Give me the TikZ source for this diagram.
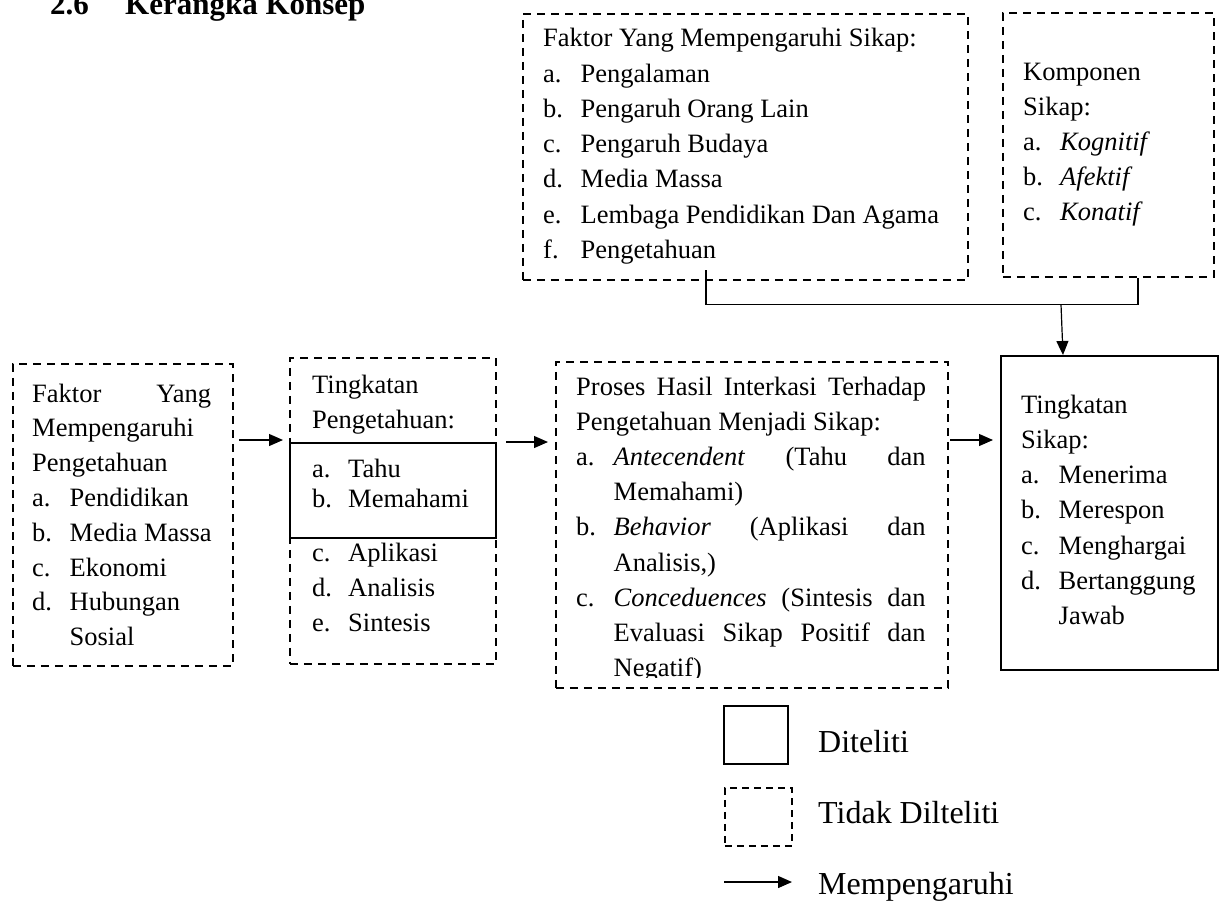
\documentclass[tikz,border=0pt]{standalone}
\usepackage{fontspec}
\setmainfont{Liberation Serif}
\usetikzlibrary{arrows.meta}
\newcommand\mytxt{\fontsize{26.5}{35.2}\selectfont}
\newcommand\itm[2]{\makebox[37.5pt][l]{#1}#2}
\newcommand\ind{\hspace*{37.5pt}}
\begin{document}
\begin{tikzpicture}[x=1pt,y=-1pt,
  dbox/.style={draw, line width=1.8pt, dash pattern=on 8pt off 6pt, rectangle, inner sep=0, anchor=north west},
  sbox/.style={draw, line width=2pt, rectangle, inner sep=0, anchor=north west},
  txt/.style={anchor=base west, inner sep=0, font=\mytxt},
  legtxt/.style={anchor=base west, inner sep=0, font=\fontsize{32}{32}\selectfont},
  arr/.style={-{Triangle[length=14pt,width=12pt]}, line width=1.2pt},
  conn/.style={line width=1.2pt}]
\useasboundingbox (0,0) rectangle (1222,906);

% title
\node[anchor=base west, inner sep=0, font=\bfseries\fontsize{31}{31}\selectfont] (tnum) at (50,14) {2.6};
\node[anchor=base west, inner sep=0, font=\bfseries\fontsize{31}{31}\selectfont] (ttl) at (125,14) {Kerangka Konsep};

% top boxes
\node[dbox, minimum width=445pt, minimum height=266pt] (fs) at (522,13) {};
\node[txt] (fst) at (543,46.7) {\fontsize{26.5}{35.3}\selectfont\begin{tabular}[t]{@{}l@{}}
Faktor Yang Mempengaruhi Sikap:\\
\itm{a.}{Pengalaman}\\
\itm{b.}{Pengaruh Orang Lain}\\
\itm{c.}{Pengaruh Budaya}\\
\itm{d.}{Media Massa}\\
\itm{e.}{Lembaga Pendidikan Dan Agama}\\
\itm{f.}{Pengetahuan}
\end{tabular}};

\node[dbox, minimum width=211pt, minimum height=264pt] (ks) at (1002,12) {};
\node[txt] (kst) at (1023,80) {\fontsize{26.5}{35}\selectfont\begin{tabular}[t]{@{}l@{}}
Komponen\\
Sikap:\\
\makebox[37pt][l]{a.}\textit{Kognitif}\\
\makebox[37pt][l]{b.}\textit{Afektif}\\
\makebox[37pt][l]{c.}\textit{Konatif}
\end{tabular}};

% left box
\node[dbox, minimum width=220pt, minimum height=302pt] (lb) at (12,363) {};
\node[txt] (lbt) at (32,402) {\fontsize{26.5}{34.8}\selectfont\begin{tabular}[t]{@{}l@{}}
\makebox[179pt][s]{Faktor Yang}\\
Mempengaruhi\\
Pengetahuan\\
\itm{a.}{Pendidikan}\\
\itm{b.}{Media Massa}\\
\itm{c.}{Ekonomi}\\
\itm{d.}{Hubungan}\\
\ind Sosial
\end{tabular}};

% tingkatan pengetahuan
\node[dbox, minimum width=206pt, minimum height=306pt] (tp) at (289,357) {};
\node[sbox, minimum width=206pt, minimum height=95pt, fill=white] (tpin) at (289,442) {};
\node[txt] (tpt1) at (312,393) {\fontsize{26.5}{35}\selectfont\begin{tabular}[t]{@{}l@{}}
Tingkatan\\
Pengetahuan:
\end{tabular}};
\node[txt] (tpt2) at (312,477) {\fontsize{26.5}{30}\selectfont\begin{tabular}[t]{@{}l@{}}
\makebox[36pt][l]{a.}Tahu\\
\makebox[36pt][l]{b.}Memahami
\end{tabular}};
\node[txt] (tpt3) at (312,561) {\fontsize{26.5}{35}\selectfont\begin{tabular}[t]{@{}l@{}}
\makebox[36pt][l]{c.}Aplikasi\\
\makebox[36pt][l]{d.}Analisis\\
\makebox[36pt][l]{e.}Sintesis
\end{tabular}};

% proses
\begin{scope}
\clip (555,361) rectangle (947,677);
\node[txt] (prt) at (576,395) {\fontsize{26.5}{35.2}\selectfont\begin{tabular}[t]{@{}l@{}}
\makebox[350pt][s]{Proses Hasil Interkasi Terhadap}\\
Pengetahuan Menjadi Sikap:\\
\itm{a.}{\makebox[312pt][s]{\textit{Antecendent} (Tahu dan}}\\
\ind Memahami)\\
\itm{b.}{\makebox[312pt][s]{\textit{Behavior} (Aplikasi dan}}\\
\ind Analisis,)\\
\itm{c.}{\makebox[312pt][s]{\textit{Conceduences} (Sintesis dan}}\\
\ind\makebox[312pt][s]{Evaluasi Sikap Positif dan}\\
\ind Negatif)
\end{tabular}};
\end{scope}
\node[dbox, minimum width=392pt, minimum height=326pt] (pr) at (555,361) {};

% tingkatan sikap
\node[sbox, minimum width=217pt, minimum height=314pt] (ts) at (1000,355) {};
\node[txt] (tst) at (1021,413) {\fontsize{26.5}{35.3}\selectfont\begin{tabular}[t]{@{}l@{}}
Tingkatan\\
Sikap:\\
\itm{a.}{Menerima}\\
\itm{b.}{Merespon}\\
\itm{c.}{Menghargai}\\
\itm{d.}{Bertanggung}\\
\ind Jawab
\end{tabular}};

% arrows between boxes
\coordinate (a1) at (239,440);
\coordinate (a2) at (506,442);
\coordinate (a3) at (950,440);
\draw[arr] (a1) -- ([xshift=-6pt]tp.west |- a1);
\draw[arr] (a2) -- ([xshift=-7pt]pr.west |- a2);
\draw[arr] (a3) -- ([xshift=-7pt]ts.west |- a3);

% connector from top boxes
\coordinate (c1) at (706,270);
\coordinate (c2) at (1138,304.5);
\coordinate (jn) at (1061,304.5);
\draw[conn] (c1) |- (c2) -- (ks.south -| c2);
\draw[arr] (jn) -- ([xshift=2pt]ts.north -| jn);

% legend
\node[sbox, minimum width=64pt, minimum height=58pt] (lg1) at (723,705) {};
\node[legtxt] (lg1t) at (818,752) {Diteliti};
\node[dbox, line width=1.6pt, dash pattern=on 7pt off 5pt, minimum width=67pt, minimum height=58pt] (lg2) at (724,787) {};
\node[legtxt] (lg2t) at (818,823) {Tidak Dilteliti};
\coordinate (lg3s) at (724,882);
\node[legtxt] (lg3t) at (818,894) {Mempengaruhi};
\draw[arr, line width=1.4pt] (lg3s) -- ([xshift=-26pt]lg3t.west |- lg3s);
\end{tikzpicture}
\end{document}
